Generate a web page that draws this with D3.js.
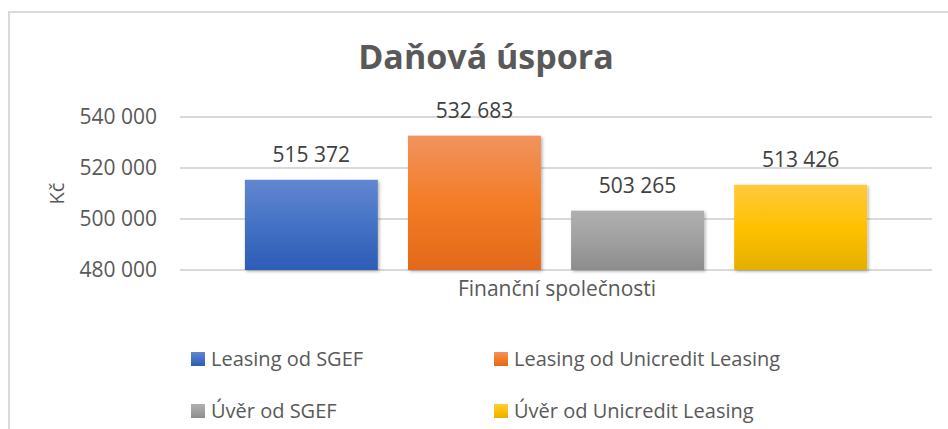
<!DOCTYPE html>
<html>
<meta charset="utf-8">
<script src="https://d3js.org/d3.v7.min.js"></script>
<style>
  body { margin: 0; background: #fff; }
  text { font-family: "Open Sans", sans-serif; }
</style>
<body>
<div id="my_dataviz"></div>
<script>

// data
var series = ["Leasing od SGEF", "Leasing od Unicredit Leasing", "Úvěr od SGEF", "Úvěr od Unicredit Leasing"];
var values = [515372, 532683, 503265, 513426];
var yTicks = [480000, 500000, 520000, 540000];
var colorsTop = ["#6386d1", "#f0935f", "#b0b0b0", "#ffca3d"];
var colorsMid = ["#4472c4", "#f47c26", "#a0a0a0", "#ffc000"];
var colorsBot = ["#2d5cb6", "#e2691a", "#8c8c8c", "#e3b000"];

var width = 948, height = 429;

var cz = d3.formatLocale({decimal: ",", thousands: " ", grouping: [3], currency: ["", " Kč"]});
var fmt = cz.format(",d");

var svg = d3.select("#my_dataviz")
  .append("svg")
    .attr("width", width)
    .attr("height", height);

var defs = svg.append("defs");
series.forEach(function(s, i) {
  var g = defs.append("linearGradient")
      .attr("id", "grad" + i)
      .attr("x1", 0).attr("y1", 0).attr("x2", 0).attr("y2", 1);
  g.append("stop").attr("offset", "0%").attr("stop-color", colorsTop[i]);
  g.append("stop").attr("offset", "50%").attr("stop-color", colorsMid[i]);
  g.append("stop").attr("offset", "100%").attr("stop-color", colorsBot[i]);
});
var shadow = defs.append("filter").attr("id", "shadow")
    .attr("x", "-10%").attr("y", "-10%").attr("width", "130%").attr("height", "130%");
shadow.append("feDropShadow")
    .attr("dx", 1.5).attr("dy", 1.5).attr("stdDeviation", 1.5)
    .attr("flood-color", "#000").attr("flood-opacity", 0.3);

// chart border
svg.append("rect")
  .attr("x", 9).attr("y", 12)
  .attr("width", 960).attr("height", 440)
  .attr("fill", "none")
  .attr("stroke", "#d9d9d9")
  .attr("stroke-width", 2);

// title
svg.append("text")
  .attr("x", 486).attr("y", 69)
  .attr("text-anchor", "middle")
  .attr("font-size", "34px")
  .attr("font-weight", "bold")
  .attr("fill", "#595959")
  .text("Daňová úspora");

// scales
var x = d3.scaleBand()
    .domain(series)
    .range([180, 932])
    .paddingInner(0.185)
    .paddingOuter(0.398);

var y = d3.scaleLinear()
    .domain([480000, 540000])
    .range([270, 117]);

// gridlines
svg.append("g")
  .selectAll("line")
  .data(yTicks)
  .enter()
  .append("line")
    .attr("x1", 180).attr("x2", 932)
    .attr("y1", function(d) { return y(d); })
    .attr("y2", function(d) { return y(d); })
    .attr("stroke", "#d9d9d9")
    .attr("stroke-width", 2);

// y tick labels
svg.append("g")
  .selectAll("text")
  .data(yTicks)
  .enter()
  .append("text")
    .attr("x", 157)
    .attr("y", function(d) { return y(d); })
    .attr("dy", "0.35em")
    .attr("text-anchor", "end")
    .attr("font-size", "21px")
    .attr("fill", "#595959")
    .text(function(d) { return fmt(d); });

// y axis title
svg.append("text")
  .attr("transform", "translate(64," + ((y(480000) + y(540000)) / 2) + ") rotate(-90)")
  .attr("text-anchor", "middle")
  .attr("font-size", "20px")
  .attr("fill", "#595959")
  .text("Kč");

// bars
svg.append("g")
  .selectAll("rect")
  .data(values)
  .enter()
  .append("rect")
    .attr("x", function(d, i) { return x(series[i]); })
    .attr("y", function(d) { return y(d); })
    .attr("width", x.bandwidth())
    .attr("height", function(d) { return y(480000) - y(d); })
    .attr("fill", function(d, i) { return "url(#grad" + i + ")"; })
    .attr("filter", "url(#shadow)");

// data labels
svg.append("g")
  .selectAll("text")
  .data(values)
  .enter()
  .append("text")
    .attr("x", function(d, i) { return x(series[i]) + x.bandwidth() / 2; })
    .attr("y", function(d) { return y(d) - 18; })
    .attr("text-anchor", "middle")
    .attr("font-size", "21px")
    .attr("fill", "#404040")
    .text(function(d) { return fmt(d); });

// x axis title
svg.append("text")
  .attr("x", 557).attr("y", 296)
  .attr("text-anchor", "middle")
  .attr("font-size", "21px")
  .attr("fill", "#595959")
  .text("Finanční společnosti");

// legend
var legend = svg.append("g")
  .selectAll("g")
  .data(series)
  .enter()
  .append("g")
    .attr("transform", function(d, i) {
      return "translate(" + (i % 2 === 0 ? 191 : 494) + "," + (i < 2 ? 359 : 411) + ")";
    });

legend.append("rect")
  .attr("x", 0).attr("y", -7)
  .attr("width", 14).attr("height", 14)
  .attr("fill", function(d, i) { return "url(#grad" + i + ")"; });

legend.append("text")
  .attr("x", 20).attr("y", 0)
  .attr("dy", "0.36em")
  .attr("font-size", "20px")
  .attr("fill", "#595959")
  .text(function(d) { return d; });

</script>
</body>
</html>
